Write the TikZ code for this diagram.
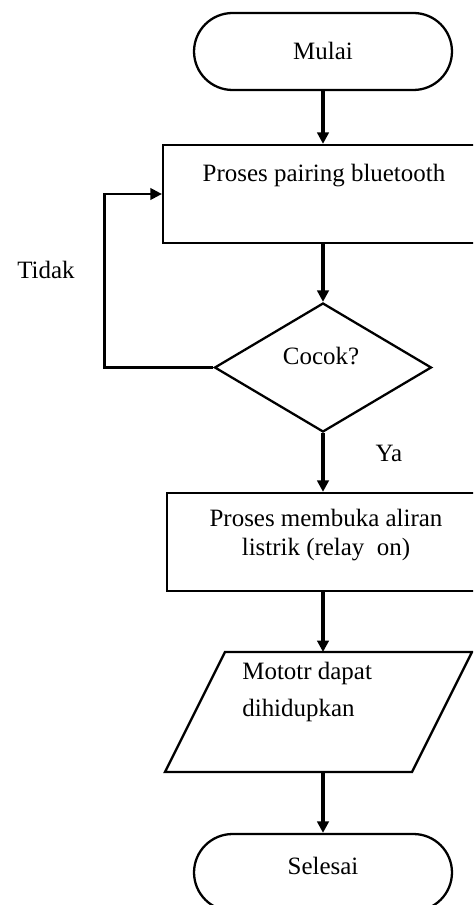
\documentclass[tikz,border=0pt]{standalone}
\usepackage{fontspec}
\setmainfont{Liberation Serif}
\usetikzlibrary{arrows.meta,shapes.geometric}

\tikzset{
  terminal/.style={draw, line width=1.3pt, rounded corners=0.77cm,
    minimum width=5.16cm, minimum height=1.54cm},
  process/.style={draw, line width=1.3pt, minimum height=1.96cm},
  decision/.style={draw, diamond, line width=1.3pt, inner sep=0pt,
    minimum width=4.34cm, minimum height=2.58cm},
  txt/.style={font=\fontsize{14.2}{16}\selectfont, inner sep=0pt},
  flow/.style={line width=2.1pt, -{Triangle[length=6.5pt,width=6.5pt]}},
  loop/.style={line width=1.3pt, -{Triangle[length=6.5pt,width=6.5pt]}}
}

\begin{document}
\begin{tikzpicture}[x=0.02cm, y=-0.02cm]
\useasboundingbox (0,0) rectangle (473,905);
\clip (0,0) rectangle (473,905);
% start
\node[terminal] (mulai) at (323,51.5) {};
\node[txt] (mulaitxt) at (323,51) {Mulai};
% pairing
\node[process, minimum width=6.4cm] (pair) at (323,194) {};
\node[txt] (pairtxt) at (324,176) {Proses pairing bluetooth};
% decision
\node[decision] (cocok) at (323,367.5) {};
\node[txt] (cocoktxt) at (321,356) {Cocok?};
% relay
\node[process, minimum width=6.24cm] (relay) at (323,542) {};
\node[txt, align=center] (relaytxt) at (326,535) {Proses membuka aliran\\listrik (relay\ \ on)};
% output
\draw[line width=1.3pt] (225,652) -- (472,652) -- (412,772) -- (165,772) -- cycle;
\coordinate (iotop) at (323,652);
\coordinate (iobot) at (323,772);
\node[txt, align=left, anchor=west, font=\fontsize{14.2}{21}\selectfont] (iotxt) at (242,692) {Mototr dapat\\dihidupkan};
% end
\node[terminal] (selesai) at (323,872.5) {};
\node[txt] (selesaitxt) at (323,866) {Selesai};
% labels
\node[txt] (tidak) at (46,270) {Tidak};
\node[txt] (ya) at (389,453) {Ya};
% connectors
\draw[flow] (mulai) -- (pair);
\draw[flow] (pair) -- (cocok);
\draw[flow] (cocok) -- (relay);
\draw[flow] (relay) -- (iotop);
\draw[flow] (iobot) -- (selesai);
\draw[loop] (cocok.west) -- ++(-109,0) |- (pair.west);
\end{tikzpicture}
\end{document}
